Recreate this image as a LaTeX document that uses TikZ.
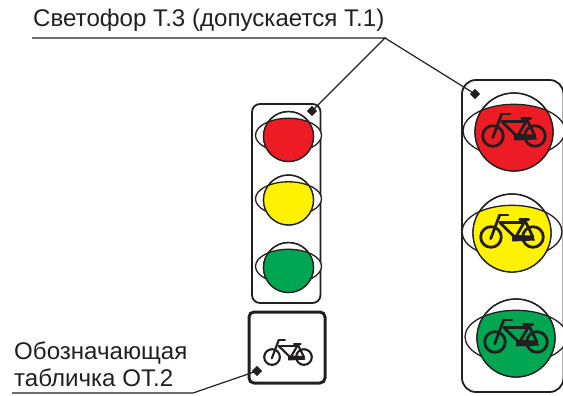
\documentclass[tikz,border=0pt]{standalone}
\usepackage{fontspec}
\setmainfont{Liberation Sans}
\usetikzlibrary{shapes.geometric}
\definecolor{lred}{HTML}{ED1C24}
\definecolor{lyel}{HTML}{FFF200}
\definecolor{lgrn}{HTML}{00A651}
\definecolor{ink}{HTML}{231F20}
\tikzset{
  housing/.style={draw=ink,line width=1.8pt,fill=white},
  thin line/.style={draw=ink,line width=1.3pt},
  leader/.style={draw=ink,line width=1.2pt},
  marker/.style={diamond,fill=ink,inner sep=0pt,minimum size=10.5pt},
  label text/.style={font=\fontsize{24.1}{26}\selectfont,text=ink,inner sep=0pt,anchor=base west},
  bikeline/.style={draw=ink,line width=#1,line cap=round,line join=round}
}
% #1 cx #2 cy #3 r #4 rx #5 ry #6 colour
\newcommand{\lamp}[6]{%
  \path[thin line,fill=white] (#1,#2-1.2) ellipse [x radius=#4,y radius=#5];
  \path[thin line,fill=white] (#1,#2) circle [radius=#3];
  \begin{scope}
    \clip (#1,#2) circle [radius=#3];
    \fill[#6] (#1-#3,#2-1.2) rectangle (#1+#3,#2+#3);
    \path[fill=#6] (#1,#2-1.2) ellipse [x radius=#4,y radius=#5];
    \draw[ink,line width=1.3pt] (#1-#4,#2-1.2) arc [start angle=180,end angle=360,x radius=#4,y radius=#5];
  \end{scope}
  \draw[ink,line width=1.3pt] (#1,#2) circle [radius=#3];
}
% #1 cx #2 cy #3 scale
\newcommand{\bike}[3]{%
  \begin{scope}[shift={(#1,#2)},scale=#3]
    \pgfmathsetmacro{\blw}{2.8*#3}
    \begin{scope}[bikeline=\blw pt]
      \draw (-21,4) circle [radius=10.3];
      \draw (21,4) circle [radius=10.3];
      \draw (-12.3,-18) -- (-4,-18);
      \draw (-12.3,-18) -- (-21.3,5.7);
      \draw (-12,-10.3) -- (13.3,-10.3);
      \draw (7.7,-13.7) -- (16.7,-13.7);
      \draw (12.7,-13) -- (21,4);
      \draw (-12,-10.3) -- (3.3,4.7);
      \draw (12,-10.3) -- (3.3,4.7);
    \end{scope}
    \fill[ink] (0,2.5) -- (4,2) -- (21,2.5) -- (23,7.5) -- (0,8.5) -- cycle;
  \end{scope}
}
\begin{document}
\begin{tikzpicture}[x=1pt,y=-1pt]
\useasboundingbox (0,0) rectangle (563,396);
% housings
\path[housing,rounded corners=8pt] (252,104) rectangle (320.5,303);
\path[housing,rounded corners=14pt] (462,80) rectangle (563.5,392);
\path[housing,line width=3pt,rounded corners=5pt] (249,312) rectangle (325,383);
% left lamps
\lamp{288.5}{136.5}{25}{33}{17}{lred}
\lamp{288.5}{200}{25}{33}{17}{lyel}
\lamp{288.5}{267.5}{25}{33}{17}{lgrn}
% right lamps
\lamp{514}{132}{39}{51}{26.5}{lred}
\bike{514}{132}{1}
\lamp{512}{233}{39}{50}{26.5}{lyel}
\bike{512}{233}{1}
\lamp{516}{338}{39}{51}{26.5}{lgrn}
\bike{516}{338}{1}
% sign bike
\bike{288}{354}{0.76}
% texts
\node[label text] (t1) at (33,26.5) {Светофор Т.3 (допускается Т.1)};
\node[label text] (t2) at (14,359) {Обозначающая};
\node[label text] (t3) at (14,386) {табличка ОТ.2};
% leaders
\coordinate (a0) at (32,38);
\coordinate (a1) at (385,38);
\coordinate (b0) at (12,393);
\coordinate (b1) at (193,393);
\node[marker] (m1) at (312,111) {};
\node[marker] (m2) at (475,94) {};
\node[marker] (m3) at (257,371) {};
\draw[leader] (a0) -- (a1) -- (m1.center);
\draw[leader] (a1) -- (m2.center);
\draw[leader] (b0) -- (b1) -- (m3.center);
\end{tikzpicture}
\end{document}
